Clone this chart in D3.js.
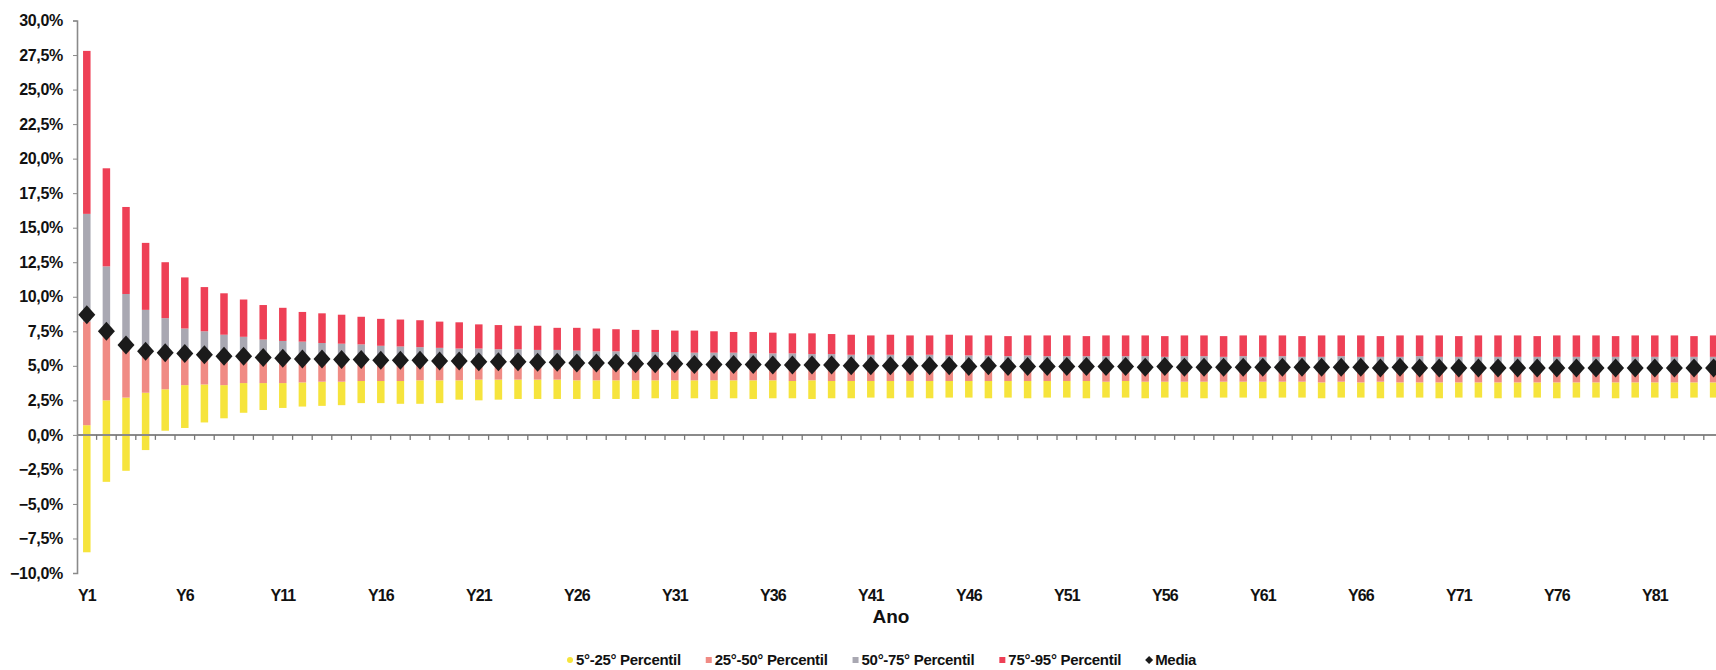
<!DOCTYPE html>
<html>
<head>
<meta charset="utf-8">
<script src="https://d3js.org/d3.v7.min.js"></script>
<style>
  body { margin: 0; background: #fff; }
  text { font-family: "Liberation Sans", Arial, sans-serif; font-weight: bold; fill: #111; }
</style>
</head>
<body>
<script>
// percentile bands per year (values in %)
var p5 = [-8.5, -3.4, -2.6, -1.1, 0.3, 0.5, 0.9, 1.2, 1.6, 1.8,
  1.95, 2.05, 2.1, 2.15, 2.3, 2.3, 2.25, 2.25, 2.3, 2.55,
  2.5, 2.55, 2.6, 2.6, 2.6, 2.6, 2.6, 2.6, 2.6, 2.65,
  2.6, 2.65, 2.6, 2.65, 2.6, 2.65, 2.65, 2.6, 2.65, 2.65,
  2.7, 2.65, 2.7, 2.65, 2.7, 2.7, 2.65, 2.7, 2.65, 2.7,
  2.7, 2.65, 2.7, 2.7, 2.65, 2.7, 2.7, 2.65, 2.7, 2.7,
  2.65, 2.7, 2.7, 2.65, 2.7, 2.7, 2.65, 2.7, 2.7, 2.65,
  2.7, 2.7, 2.65, 2.7, 2.7, 2.65, 2.7, 2.7, 2.65, 2.7,
  2.7, 2.65, 2.7, 2.7, 2.65];
var p25 = [0.7, 2.5, 2.7, 3.05, 3.3, 3.6, 3.65, 3.6, 3.75, 3.75,
  3.75, 3.8, 3.85, 3.85, 3.9, 3.9, 3.9, 3.95, 3.95, 3.95,
  4.0, 4.0, 4.0, 4.0, 4.0, 3.95, 3.95, 3.95, 3.95, 3.95,
  3.95, 3.95, 3.95, 3.95, 3.95, 3.95, 3.9, 3.95, 3.9, 3.9,
  3.9, 3.9, 3.9, 3.9, 3.9, 3.9, 3.9, 3.9, 3.9, 3.9,
  3.9, 3.9, 3.85, 3.9, 3.85, 3.85, 3.85, 3.85, 3.85, 3.85,
  3.85, 3.85, 3.85, 3.8, 3.85, 3.8, 3.85, 3.8, 3.8, 3.8,
  3.8, 3.8, 3.8, 3.8, 3.8, 3.8, 3.8, 3.8, 3.8, 3.8,
  3.8, 3.8, 3.8, 3.8, 3.8];
var p50 = [8.2, 7.1, 6.3, 5.8, 5.7, 5.6, 5.5, 5.45, 5.4, 5.35,
  5.3, 5.25, 5.25, 5.2, 5.2, 5.2, 5.15, 5.15, 5.1, 5.1,
  5.1, 5.05, 5.05, 5.05, 5.05, 5.0, 5.0, 5.0, 5.0, 5.0,
  4.95, 4.95, 4.95, 4.95, 4.95, 4.95, 4.9, 4.9, 4.9, 4.9,
  4.9, 4.9, 4.9, 4.9, 4.85, 4.85, 4.85, 4.85, 4.85, 4.85,
  4.85, 4.85, 4.85, 4.85, 4.8, 4.8, 4.8, 4.8, 4.8, 4.8,
  4.8, 4.8, 4.8, 4.8, 4.8, 4.8, 4.8, 4.8, 4.75, 4.75,
  4.75, 4.75, 4.75, 4.75, 4.75, 4.75, 4.75, 4.75, 4.75, 4.75,
  4.75, 4.75, 4.75, 4.75, 4.75];
var p75 = [16.0, 12.2, 10.2, 9.05, 8.45, 7.7, 7.5, 7.25, 7.1, 6.9,
  6.8, 6.75, 6.65, 6.6, 6.55, 6.45, 6.4, 6.35, 6.3, 6.25,
  6.25, 6.2, 6.2, 6.15, 6.15, 6.1, 6.05, 6.05, 6.0, 6.0,
  6.0, 5.95, 5.95, 5.95, 5.9, 5.9, 5.9, 5.85, 5.85, 5.8,
  5.8, 5.8, 5.75, 5.8, 5.75, 5.75, 5.75, 5.7, 5.75, 5.7,
  5.7, 5.7, 5.7, 5.7, 5.7, 5.65, 5.7, 5.7, 5.65, 5.7,
  5.65, 5.7, 5.65, 5.65, 5.7, 5.65, 5.65, 5.65, 5.7, 5.65,
  5.65, 5.65, 5.65, 5.65, 5.65, 5.65, 5.65, 5.65, 5.65, 5.65,
  5.65, 5.65, 5.65, 5.65, 5.65];
var p95 = [27.8, 19.3, 16.5, 13.9, 12.5, 11.4, 10.7, 10.25, 9.8, 9.4,
  9.2, 8.9, 8.8, 8.7, 8.55, 8.4, 8.35, 8.3, 8.2, 8.15,
  8.0, 7.95, 7.9, 7.9, 7.75, 7.75, 7.7, 7.65, 7.6, 7.6,
  7.55, 7.55, 7.5, 7.45, 7.45, 7.4, 7.35, 7.35, 7.3, 7.25,
  7.2, 7.25, 7.2, 7.2, 7.25, 7.2, 7.2, 7.15, 7.2, 7.2,
  7.2, 7.15, 7.2, 7.2, 7.2, 7.15, 7.2, 7.2, 7.15, 7.2,
  7.2, 7.2, 7.15, 7.2, 7.2, 7.2, 7.15, 7.2, 7.2, 7.2,
  7.15, 7.2, 7.2, 7.2, 7.15, 7.2, 7.2, 7.2, 7.15, 7.2,
  7.2, 7.2, 7.15, 7.2, 7.2];
var media = [8.7, 7.5, 6.5, 6.05, 5.95, 5.9, 5.8, 5.7, 5.7, 5.6,
  5.55, 5.5, 5.5, 5.45, 5.45, 5.4, 5.4, 5.4, 5.35, 5.35,
  5.3, 5.3, 5.3, 5.25, 5.25, 5.2, 5.2, 5.2, 5.15, 5.15,
  5.15, 5.1, 5.1, 5.1, 5.1, 5.05, 5.05, 5.05, 5.05, 5.0,
  5.0, 5.0, 5.0, 5.0, 5.0, 4.95, 5.0, 4.95, 4.95, 4.95,
  4.95, 4.95, 4.95, 4.95, 4.9, 4.95, 4.9, 4.9, 4.9, 4.9,
  4.9, 4.9, 4.9, 4.9, 4.9, 4.9, 4.85, 4.9, 4.85, 4.85,
  4.85, 4.85, 4.85, 4.85, 4.85, 4.85, 4.85, 4.85, 4.85, 4.85,
  4.85, 4.85, 4.85, 4.85, 4.85];

var years = p5.map(function(d, i) { return "Y" + (i + 1); });
var yTicks = [-10, -7.5, -5, -2.5, 0, 2.5, 5, 7.5, 10, 12.5, 15, 17.5, 20, 22.5, 25, 27.5, 30];
var legendLabels = ["5°-25° Percentil", "25°-50° Percentil", "50°-75° Percentil", "75°-95° Percentil", "Media"];
var bandColors = ["#f6e43c", "#f08b84", "#a9a8b2", "#ee4056"];

var width = 1716;
var height = 670;
var left = 77;
var step = 19.6;

var svg = d3.select("body").append("svg")
    .attr("width", width)
    .attr("height", height);

var x = d3.scaleBand()
    .domain(years)
    .range([left, left + step * years.length]);

var y = d3.scaleLinear()
    .domain([-10, 30])
    .range([573, 20.5]);

// segments: [low, high, color]
var segs = [];
years.forEach(function(yr, i) {
  var lv = [p5[i], p25[i], p50[i], p75[i], p95[i]];
  for (var k = 0; k < 4; k++) {
    segs.push({ year: yr, lo: lv[k], hi: lv[k + 1], color: bandColors[k] });
  }
});

var barW = 7.5;
svg.append("g").selectAll("rect")
    .data(segs)
    .enter()
    .append("rect")
    .attr("x", function(d) { return x(d.year) + x.bandwidth() / 2 - barW / 2; })
    .attr("width", barW)
    .attr("y", function(d) { return y(d.hi); })
    .attr("height", function(d) { return y(d.lo) - y(d.hi); })
    .attr("fill", function(d) { return d.color; });

// y axis
var yAxis = svg.append("g")
    .attr("transform", "translate(" + left + ",0)")
    .call(d3.axisLeft(y).tickValues(yTicks).tickSize(4).tickPadding(10)
      .tickFormat(function(d) { return d3.format(".1f")(d).replace(".", ",") + "%"; }));
yAxis.select(".domain").attr("stroke", "#8a8a8a").attr("stroke-width", 1.6);
yAxis.selectAll(".tick line").attr("stroke", "#8a8a8a");
yAxis.selectAll("text").style("font-size", "16px").attr("fill", "#111").style("letter-spacing", "-0.3px");

// x axis at 0% with ticks between categories
var zeroY = y(0);
svg.append("line")
    .attr("x1", left).attr("x2", width)
    .attr("y1", zeroY).attr("y2", zeroY)
    .attr("stroke", "#8a8a8a").attr("stroke-width", 2);

svg.append("g").selectAll("line")
    .data(years)
    .enter()
    .append("line")
    .attr("x1", function(d) { return x(d) + x.bandwidth(); })
    .attr("x2", function(d) { return x(d) + x.bandwidth(); })
    .attr("y1", zeroY)
    .attr("y2", zeroY + 5)
    .attr("stroke", "#777")
    .attr("stroke-width", 1.3);

// year labels every 5
svg.append("g").selectAll("text")
    .data(years.filter(function(d, i) { return i % 5 == 0; }))
    .enter()
    .append("text")
    .attr("x", function(d) { return x(d) + x.bandwidth() / 2; })
    .attr("y", 601)
    .attr("text-anchor", "middle")
    .style("font-size", "16px")
    .style("letter-spacing", "-1px")
    .text(function(d) { return d; });

svg.append("text")
    .attr("x", 891)
    .attr("y", 623)
    .attr("text-anchor", "middle")
    .style("font-size", "19px")
    .text("Ano");

// media diamonds
svg.append("g").selectAll("path")
    .data(years)
    .enter()
    .append("path")
    .attr("d", "M0,-9.5L8.5,0L0,9.5L-8.5,0Z")
    .attr("transform", function(d, i) {
      return "translate(" + (x(d) + x.bandwidth() / 2) + "," + y(media[i]) + ")";
    })
    .attr("fill", "#1b1b1b");

// legend
var lx = 567;
var ly = 665;
legendLabels.forEach(function(lab, i) {
  if (i < 4) {
    if (i == 0) {
      svg.append("circle").attr("cx", lx + 3).attr("cy", ly - 5).attr("r", 3).attr("fill", bandColors[i]);
    } else {
      svg.append("rect").attr("x", lx).attr("y", ly - 8).attr("width", 6).attr("height", 6).attr("fill", bandColors[i]);
    }
  } else {
    svg.append("path").attr("d", "M0,-4L4,0L0,4L-4,0Z")
      .attr("transform", "translate(" + (lx + 3) + "," + (ly - 5) + ")")
      .attr("fill", "#1b1b1b");
  }
  var t = svg.append("text")
      .attr("x", lx + 9)
      .attr("y", ly)
      .style("font-size", "15px")
      .style("letter-spacing", "-0.3px")
      .text(lab);
  lx = lx + 9 + t.node().getComputedTextLength() + 25;
});
</script>
</body>
</html>
